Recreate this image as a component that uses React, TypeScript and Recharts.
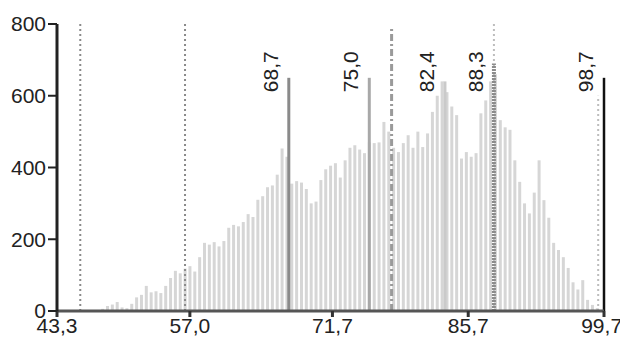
import React from "react";
import { ComposedChart, Bar, XAxis, YAxis, ReferenceLine } from "recharts";

// Histogram bins (x value) and counts
const binCenters = [
  48.0, 48.5, 49.0, 49.5, 50.0, 50.5, 51.0, 51.5, 52.0, 52.5, 53.0, 53.5, 54.0, 54.5, 55.0, 55.5,
  56.0, 56.5, 57.0, 57.5, 58.0, 58.5, 59.0, 59.5, 60.0, 60.5, 61.0, 61.5, 62.0, 62.5, 63.0, 63.5,
  64.0, 64.5, 65.0, 65.5, 66.0, 66.5, 67.0, 67.5, 68.0, 68.5, 69.0, 69.5, 70.0, 70.5, 71.0, 71.5,
  72.0, 72.5, 73.0, 73.5, 74.0, 74.5, 75.0, 75.5, 76.0, 76.5, 77.0, 77.5, 78.0, 78.5, 79.0, 79.5,
  80.0, 80.5, 81.0, 81.5, 82.0, 82.5, 83.0, 83.5, 84.0, 84.5, 85.0, 85.5, 86.0, 86.5, 87.0, 87.5,
  88.0, 88.5, 89.0, 89.5, 90.0, 90.5, 91.0, 91.5, 92.0, 92.5, 93.0, 93.5, 94.0, 94.5, 95.0, 95.5,
  96.0, 96.5, 97.0, 97.5, 98.0, 98.5, 99.0,
];
const binCounts = [
  6, 14, 18, 25, 10, 8, 20, 38, 45, 70, 52, 55, 50, 70, 92, 112,
  105, 118, 125, 110, 150, 190, 185, 192, 180, 195, 232, 240, 236, 248, 270, 262,
  310, 320, 345, 350, 380, 453, 430, 355, 362, 358, 340, 300, 305, 365, 395, 405,
  412, 372, 420, 455, 462, 450, 440, 470, 468, 470, 527, 500, 455, 443, 468, 490,
  455, 500, 457, 495, 555, 600, 640, 610, 570, 546, 425, 443, 430, 440, 551, 587,
  640, 660, 532, 512, 505, 420, 360, 300, 272, 330, 420, 309, 260, 190, 170, 150,
  120, 80, 60, 86, 31, 17, 8,
];

// Labelled markers
const markerLabels = ["68,7", "75,0", "82,4", "88,3", "98,7"];
const markerAt = [67.2, 75.5, 83.3, 88.35, 99.7];
const markerCounts = [650, 650, 640, 690, 650];
const markerKinds = ["solid", "light", "plain", "dotted", "black"];
const labelBase = 610;

// Guide lines (no label)
const guideAt = [45.7, 56.5, 77.8, 88.35, 99.1];
const guideTop = [800, 800, 790, 800, 600];
const guideKinds = ["dotted", "dotted", "dashdot", "faint", "faint"];

const xTicks = [43.3, 57.0, 71.7, 85.7, 99.7];
const yTicks = [0, 200, 400, 600, 800];

const data = binCenters.map((v, i) => ({ v, count: binCounts[i] }));

const FONT = "'Liberation Sans', Arial, Helvetica, sans-serif";

const markerStyle: Record<string, any> = {
  solid: { stroke: "#8a8a8a", strokeWidth: 3 },
  light: { stroke: "#a8a8a8", strokeWidth: 3 },
  plain: { stroke: "#cacaca", strokeWidth: 3 },
  dotted: { stroke: "#8c8c8c", strokeWidth: 4, strokeDasharray: "2 1" },
  black: { stroke: "#111", strokeWidth: 2.5 },
};
const guideStyle: Record<string, any> = {
  dotted: { stroke: "#8a8a8a", strokeWidth: 2, strokeDasharray: "2 3" },
  dashdot: { stroke: "#9a9a9a", strokeWidth: 3, strokeDasharray: "7 3 2 3" },
  faint: { stroke: "#bdbdbd", strokeWidth: 2, strokeDasharray: "2 3" },
};

const MarkerLabel = (props: any) => {
  const vb = props.viewBox || {};
  const x = vb.x - 11;
  const y = vb.y + vb.height;
  return (
    <g>
      <rect x={x - 19} y={y - 48} width={22} height={50} fill="#fff" />
      <text
        x={x}
        y={y}
        transform={`rotate(-90 ${x} ${y})`}
        fontFamily={FONT}
        fontSize={21}
        fill="#222"
        textAnchor="start"
      >
        {props.text}
      </text>
    </g>
  );
};

export default function App() {
  return (
    <div style={{ position: "absolute", left: 0, top: 0, background: "#fff" }}>
      <ComposedChart
        width={620}
        height={343}
        data={data}
        margin={{ top: 24, right: 16, left: 0, bottom: 0 }}
        barGap={0}
      >
        <XAxis
          dataKey="v"
          type="number"
          domain={[43.3, 99.7]}
          ticks={xTicks}
          allowDataOverflow
          tickFormatter={(t: number) => t.toFixed(1).replace(".", ",")}
          height={32}
          tickSize={6}
          tickMargin={1}
          axisLine={{ stroke: "#555", strokeWidth: 3 }}
          tickLine={{ stroke: "#333", strokeWidth: 3 }}
          tick={{ fontFamily: FONT, fontSize: 21, fill: "#222" }}
        />
        <YAxis
          type="number"
          domain={[0, 800]}
          ticks={yTicks}
          width={57}
          tickSize={9}
          tickMargin={2}
          axisLine={{ stroke: "#222", strokeWidth: 3 }}
          tickLine={{ stroke: "#222", strokeWidth: 2 }}
          tick={{ fontFamily: FONT, fontSize: 21, fill: "#222" }}
        />
        <Bar dataKey="count" fill="#d6d6d6" barSize={3} isAnimationActive={false} />
        {guideAt.map((g, i) => (
          <ReferenceLine
            key={"g" + i}
            segment={[
              { x: g, y: 0 },
              { x: g, y: guideTop[i] },
            ]}
            {...guideStyle[guideKinds[i]]}
          />
        ))}
        {markerAt.map((m, i) => (
          <ReferenceLine
            key={"m" + i}
            segment={[
              { x: m, y: 0 },
              { x: m, y: markerCounts[i] },
            ]}
            {...markerStyle[markerKinds[i]]}
          />
        ))}
        {markerAt.map((m, i) => (
          <ReferenceLine
            key={"l" + i}
            segment={[
              { x: m, y: labelBase },
              { x: m, y: 800 },
            ]}
            stroke="none"
            label={<MarkerLabel text={markerLabels[i]} />}
          />
        ))}
      </ComposedChart>
    </div>
  );
}
